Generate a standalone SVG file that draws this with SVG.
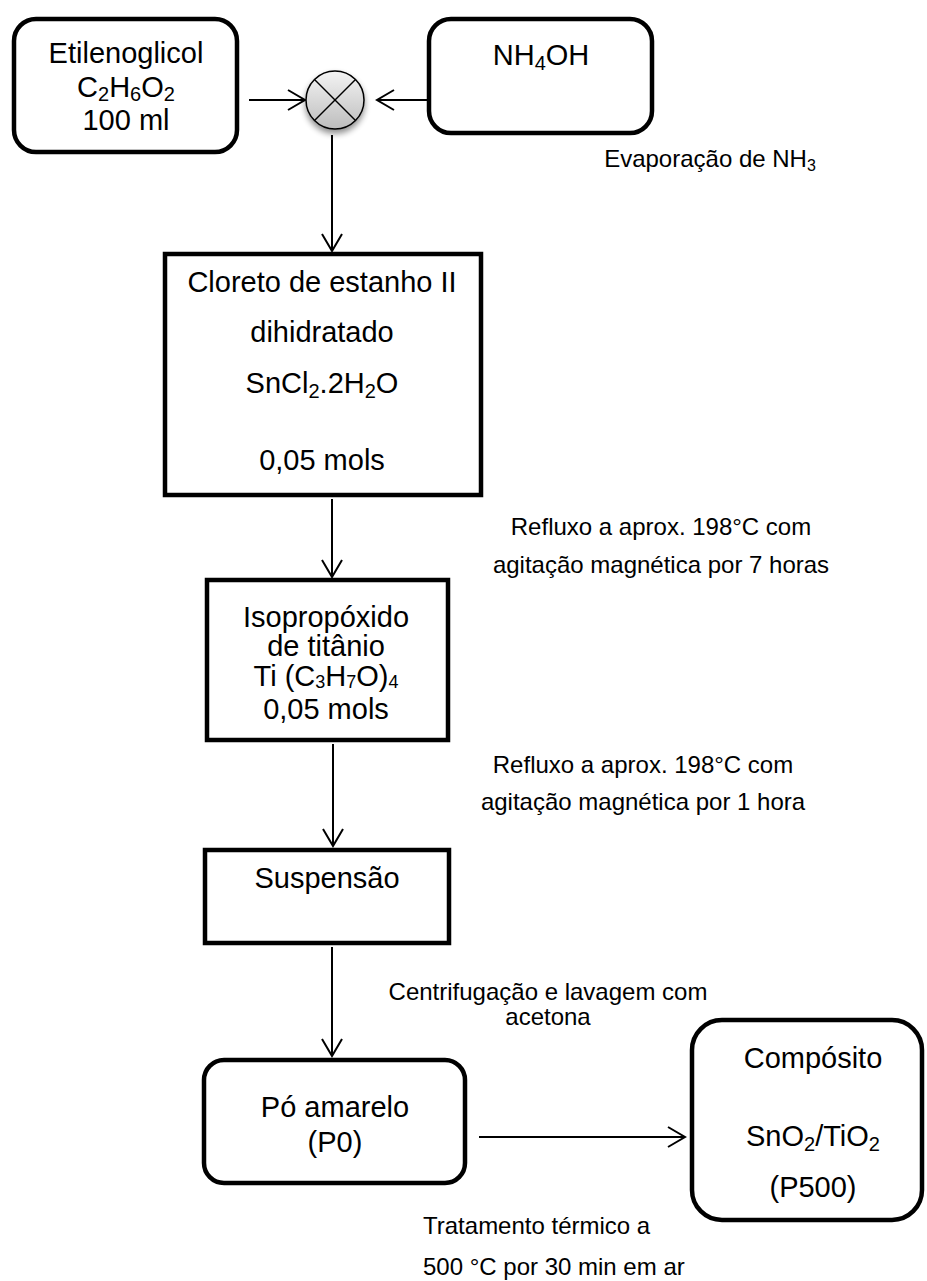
<svg xmlns="http://www.w3.org/2000/svg" width="927" height="1281" viewBox="0 0 927 1281">
  <style>
    .box { fill: #ffffff; stroke: #000000; stroke-width: 4.5; }
    .conn { fill: none; stroke: #000000; stroke-width: 2; }
    .node-text { font-family: "Liberation Sans", Arial, sans-serif; font-size: 29px; fill: #000000; text-anchor: middle; }
    .label { font-family: "Liberation Sans", Arial, sans-serif; font-size: 24px; fill: #000000; text-anchor: middle; }
    .sub { font-size: 20px; }
  </style>
  <defs>
    <marker id="arrow" viewBox="-20 -12 24 24" markerWidth="24" markerHeight="24" refX="0" refY="0" orient="auto" markerUnits="userSpaceOnUse">
      <path d="M-17,-10 L0,0 L-17,10" fill="none" stroke="#000000" stroke-width="2"/>
    </marker>
    <linearGradient id="mixFill" x1="0" y1="0" x2="0" y2="1">
      <stop offset="0" stop-color="#f4f4f4"/>
      <stop offset="1" stop-color="#bdbdbd"/>
    </linearGradient>
    <filter id="softShadow" x="-50%" y="-50%" width="200%" height="200%">
      <feGaussianBlur in="SourceAlpha" stdDeviation="3"/>
      <feOffset dx="0" dy="4" result="blur"/>
      <feComponentTransfer><feFuncA type="linear" slope="0.45"/></feComponentTransfer>
      <feMerge><feMergeNode/><feMergeNode in="SourceGraphic"/></feMerge>
    </filter>
  </defs>

  <!-- connectors -->
  <g id="connectors">
    <line class="conn" x1="249" y1="100" x2="305" y2="100" marker-end="url(#arrow)"/>
    <line class="conn" x1="427" y1="100" x2="377" y2="100" marker-end="url(#arrow)"/>
    <line class="conn" x1="332" y1="135" x2="332" y2="251" marker-end="url(#arrow)"/>
    <line class="conn" x1="332" y1="499" x2="332" y2="577" marker-end="url(#arrow)"/>
    <line class="conn" x1="333" y1="744" x2="333" y2="846" marker-end="url(#arrow)"/>
    <line class="conn" x1="332" y1="947" x2="332" y2="1056" marker-end="url(#arrow)"/>
    <line class="conn" x1="479" y1="1137" x2="685" y2="1137" marker-end="url(#arrow)"/>
  </g>

  <!-- mixing junction -->
  <g id="mixer">
    <circle cx="335" cy="100" r="29" fill="url(#mixFill)" stroke="#000000" stroke-width="1.5" filter="url(#softShadow)"/>
    <line x1="314.5" y1="79.5" x2="355.5" y2="120.5" stroke="#000000" stroke-width="1.5"/>
    <line x1="355.5" y1="79.5" x2="314.5" y2="120.5" stroke="#000000" stroke-width="1.5"/>
  </g>

  <g id="etilenoglicol">
    <rect class="box" x="14" y="19" width="223" height="133" rx="22"/>
    <text class="node-text" x="126" y="63">Etilenoglicol</text>
    <text class="node-text" x="126" y="97">C<tspan class="sub" dy="4">2</tspan><tspan dy="-4">H</tspan><tspan class="sub" dy="4">6</tspan><tspan dy="-4">O</tspan><tspan class="sub" dy="4">2</tspan></text>
    <text class="node-text" x="126" y="130">100 ml</text>
  </g>

  <g id="nh4oh">
    <rect class="box" x="429" y="19" width="223" height="114" rx="22"/>
    <text class="node-text" x="541" y="65">NH<tspan class="sub" dy="5">4</tspan><tspan dy="-5">OH</tspan></text>
  </g>

  <g id="evaporacao">
    <text class="label" x="710" y="167">Evaporação de NH<tspan class="sub" dy="4" style="font-size:16px">3</tspan></text>
  </g>

  <g id="cloreto">
    <rect class="box" x="165" y="254" width="316" height="241"/>
    <text class="node-text" x="322" y="292">Cloreto de estanho II</text>
    <text class="node-text" x="322" y="342">dihidratado</text>
    <text class="node-text" x="322" y="393">SnCl<tspan class="sub" dy="5">2</tspan><tspan dy="-5">.2H</tspan><tspan class="sub" dy="5">2</tspan><tspan dy="-5">O</tspan></text>
    <text class="node-text" x="322" y="470">0,05 mols</text>
  </g>

  <g id="refluxo-1">
    <text class="label" x="661" y="535">Refluxo a aprox. 198°C com</text>
    <text class="label" x="661" y="573">agitação magnética por 7 horas</text>
  </g>

  <g id="isopropoxido">
    <rect class="box" x="207" y="580" width="241" height="160"/>
    <text class="node-text" x="326" y="627">Isopropóxido</text>
    <text class="node-text" x="326" y="656">de titânio</text>
    <text class="node-text" x="326" y="686">Ti (C<tspan class="sub" dy="2" style="font-size:18px">3</tspan><tspan dy="-2">H</tspan><tspan class="sub" dy="2" style="font-size:18px">7</tspan><tspan dy="-2">O)</tspan><tspan class="sub" dy="2" style="font-size:18px">4</tspan></text>
    <text class="node-text" x="326" y="719">0,05 mols</text>
  </g>

  <g id="refluxo-2">
    <text class="label" x="643" y="773">Refluxo a aprox. 198°C com</text>
    <text class="label" x="643" y="810">agitação magnética por 1 hora</text>
  </g>

  <g id="suspensao">
    <rect class="box" x="205" y="850" width="244" height="93"/>
    <text class="node-text" x="327" y="888">Suspensão</text>
  </g>

  <g id="centrifugacao">
    <text class="label" x="548" y="1000">Centrifugação e lavagem com</text>
    <text class="label" x="548" y="1025">acetona</text>
  </g>

  <g id="po-amarelo">
    <rect class="box" x="204" y="1060" width="261" height="123" rx="20"/>
    <text class="node-text" x="335" y="1117">Pó amarelo</text>
    <text class="node-text" x="335" y="1152">(P0)</text>
  </g>

  <g id="composito">
    <rect class="box" x="692" y="1020" width="230" height="200" rx="30"/>
    <text class="node-text" x="813" y="1068">Compósito</text>
    <text class="node-text" x="813" y="1146">SnO<tspan class="sub" dy="5">2</tspan><tspan dy="-5">/TiO</tspan><tspan class="sub" dy="5">2</tspan></text>
    <text class="node-text" x="813" y="1197">(P500)</text>
  </g>

  <g id="tratamento">
    <text class="label" x="423" y="1234" style="text-anchor:start">Tratamento térmico a</text>
    <text class="label" x="423" y="1275" style="text-anchor:start">500 °C por 30 min em ar</text>
  </g>
</svg>
